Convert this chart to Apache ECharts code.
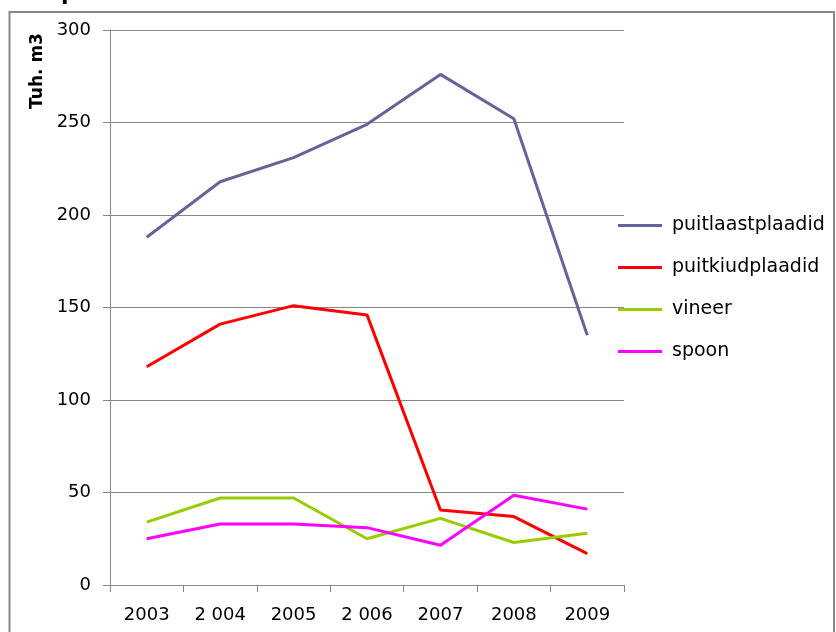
<!DOCTYPE html>
<html>
<head>
<meta charset="utf-8">
<script src="https://cdn.jsdelivr.net/npm/echarts@6/dist/echarts.min.js"></script>
<style>
html, body { margin: 0; padding: 0; background: #fff; }
#chart { width: 836px; height: 632px; }
</style>
</head>
<body>
<div id="chart"></div>
<script>
// aastad
var years = ['2003', '2 004', '2005', '2 006', '2007', '2008', '2009'];

// tuh. m3
var puitlaastplaadid = [188, 218, 231, 249, 276, 252, 135];
var puitkiudplaadid = [118, 141, 151, 146, 40.5, 37, 17];
var vineer = [34, 47, 47, 25, 36, 23, 28];
var spoon = [25, 33, 33, 31, 21.5, 48.5, 41];

var axisFont = 'DejaVu Sans';
var chart = echarts.init(document.getElementById('chart'));

function makeLine(name, data, color) {
	return {
		name: name,
		type: 'line',
		data: data,
		showSymbol: false,
		symbol: 'none',
		lineStyle: { color: color, width: 3 },
		itemStyle: { color: color },
		animation: false
	};
}

chart.setOption({
	backgroundColor: '#FFFFFF',
	animation: false,
	grid: { left: 110, right: 212, top: 30, bottom: 47 },
	xAxis: {
		type: 'category',
		data: years,
		boundaryGap: true,
		axisLine: { lineStyle: { color: '#868686', width: 1 } },
		axisTick: { show: true, alignWithLabel: false, interval: 0, length: 7, lineStyle: { color: '#868686' } },
		axisLabel: { color: '#000', fontFamily: axisFont, fontSize: 18, margin: 21, interval: 0 },
		splitLine: { show: false }
	},
	yAxis: {
		type: 'value',
		min: 0,
		max: 300,
		interval: 50,
		axisLine: { show: true, lineStyle: { color: '#868686', width: 1 } },
		axisTick: { show: true, length: 7, lineStyle: { color: '#868686' } },
		axisLabel: { color: '#000', fontFamily: axisFont, fontSize: 18, margin: 19 },
		splitLine: { lineStyle: { color: '#868686', width: 1 } }
	},
	legend: {
		orient: 'vertical',
		left: 613,
		top: 211,
		itemWidth: 44,
		itemHeight: 3,
		itemGap: 23,
		icon: 'rect',
		textStyle: { color: '#000', fontFamily: axisFont, fontSize: 19, padding: [0, 0, 0, 5] },
		data: ['puitlaastplaadid', 'puitkiudplaadid', 'vineer', 'spoon']
	},
	graphic: [
		{
			type: 'rect',
			shape: { x: 9.5, y: 12, width: 824.5, height: 640 },
			style: { fill: 'none', stroke: '#878787', lineWidth: 2 },
			silent: true
		},
		{
			type: 'text',
			x: 38,
			y: 71,
			rotation: Math.PI / 2,
			style: {
				text: 'Tuh. m3',
				font: 'bold 17px "DejaVu Sans"',
				fill: '#000',
				align: 'center',
				verticalAlign: 'middle'
			}
		},
		{
			type: 'text',
			x: 61,
			y: -17,
			style: { text: 'p', font: 'bold 22px "DejaVu Sans"', fill: '#000' }
		}
	],
	series: [
		makeLine('puitlaastplaadid', puitlaastplaadid, '#64649C'),
		makeLine('puitkiudplaadid', puitkiudplaadid, '#FF0000'),
		makeLine('vineer', vineer, '#99CC00'),
		makeLine('spoon', spoon, '#FF00FF')
	]
});
</script>
</body>
</html>
